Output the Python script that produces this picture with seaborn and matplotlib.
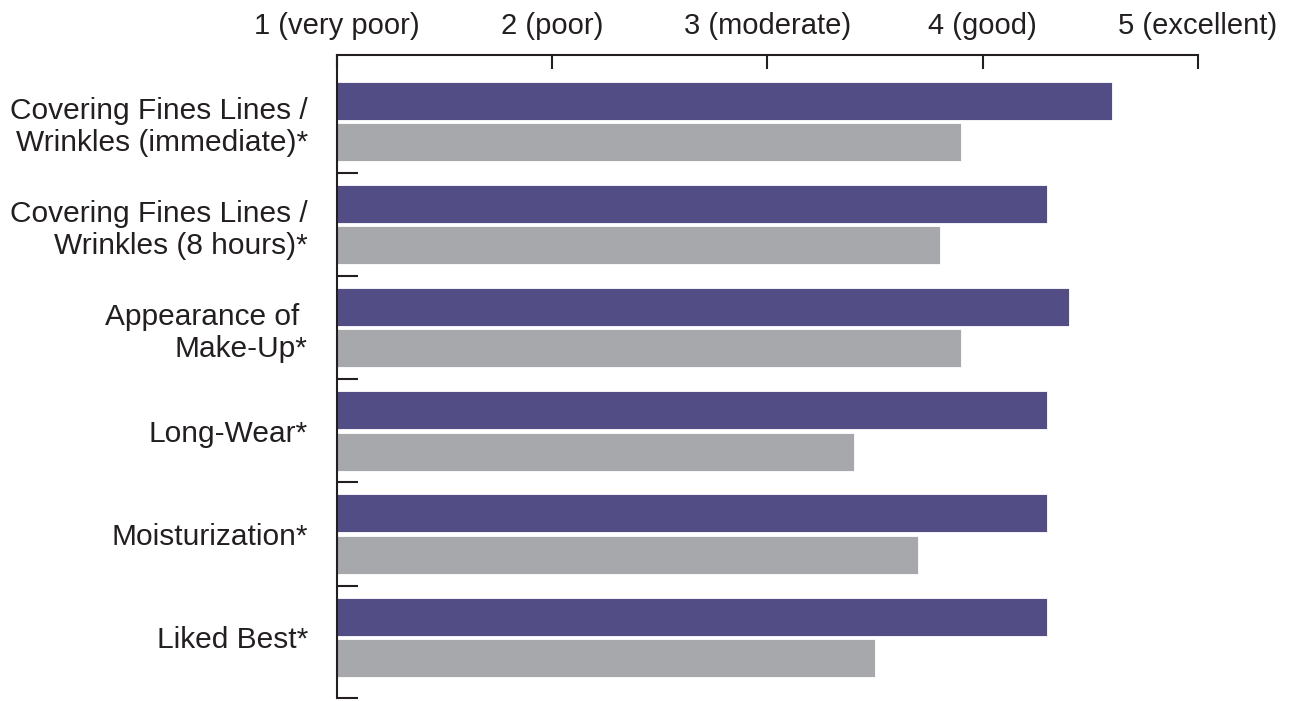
import pandas as pd
import matplotlib.pyplot as plt
import seaborn as sns

categories = [
    "Covering Fines Lines /\nWrinkles (immediate)*",
    "Covering Fines Lines /\nWrinkles (8 hours)*",
    "Appearance of \nMake-Up*",
    "Long-Wear*",
    "Moisturization*",
    "Liked Best*",
]
test_scores = [4.60, 4.30, 4.40, 4.30, 4.30, 4.30]
control_scores = [3.90, 3.80, 3.90, 3.40, 3.70, 3.50]
series = ["Test", "Control"]
scale_labels = ["1 (very poor)", "2 (poor)", "3 (moderate)", "4 (good)", "5 (excellent)"]
scale_ticks = [1, 2, 3, 4, 5]

df = pd.DataFrame({
    "category": categories * 2,
    "product": [series[0]] * len(categories) + [series[1]] * len(categories),
    "score": test_scores + control_scores,
})

sns.set_style("white")
plt.rcParams["font.family"] = ["Liberation Sans", "DejaVu Sans"]

fig = plt.figure(figsize=(12.94, 7.01), dpi=100)
ax = fig.add_axes([0.2604, 0.0043, 0.9258 - 0.2604, 0.9215 - 0.0043])

sns.barplot(data=df, y="category", x="score", hue="product", hue_order=series,
            palette=["#524E85", "#A7A8AB"], saturation=1, orient="h", gap=0.08,
            edgecolor="white", linewidth=0.6, legend=False, ax=ax)

ax.set_xlim(1, 5)
ax.set_ylim(5.59, -0.646)
ax.set_xlabel("")
ax.set_ylabel("")

ax.xaxis.tick_top()
ax.set_xticks(scale_ticks)
ax.set_xticklabels(scale_labels, fontsize=21, color="#231F20")
ax.tick_params(axis="x", top=True, bottom=False, direction="in", length=10,
               width=1.5, pad=11, color="#231F20")

n = len(categories)
ax.set_yticks([i + 0.5 for i in range(n - 1)] + [5.59])
ax.set_yticklabels([])
ax.set_yticks(list(range(n)), minor=True)
ax.set_yticklabels(categories, minor=True, fontsize=21.5, ha="right",
                   multialignment="right", linespacing=1.2, color="#231F20")
ax.tick_params(axis="y", which="major", left=True, direction="in", length=15,
               width=1.5, color="#231F20")
ax.tick_params(axis="y", which="minor", left=True, length=0, pad=21)

for side in ["right", "bottom"]:
    ax.spines[side].set_visible(False)
for side in ["top", "left"]:
    ax.spines[side].set_linewidth(1.5)
    ax.spines[side].set_color("#231F20")

fig.savefig("out.png", dpi=100)
